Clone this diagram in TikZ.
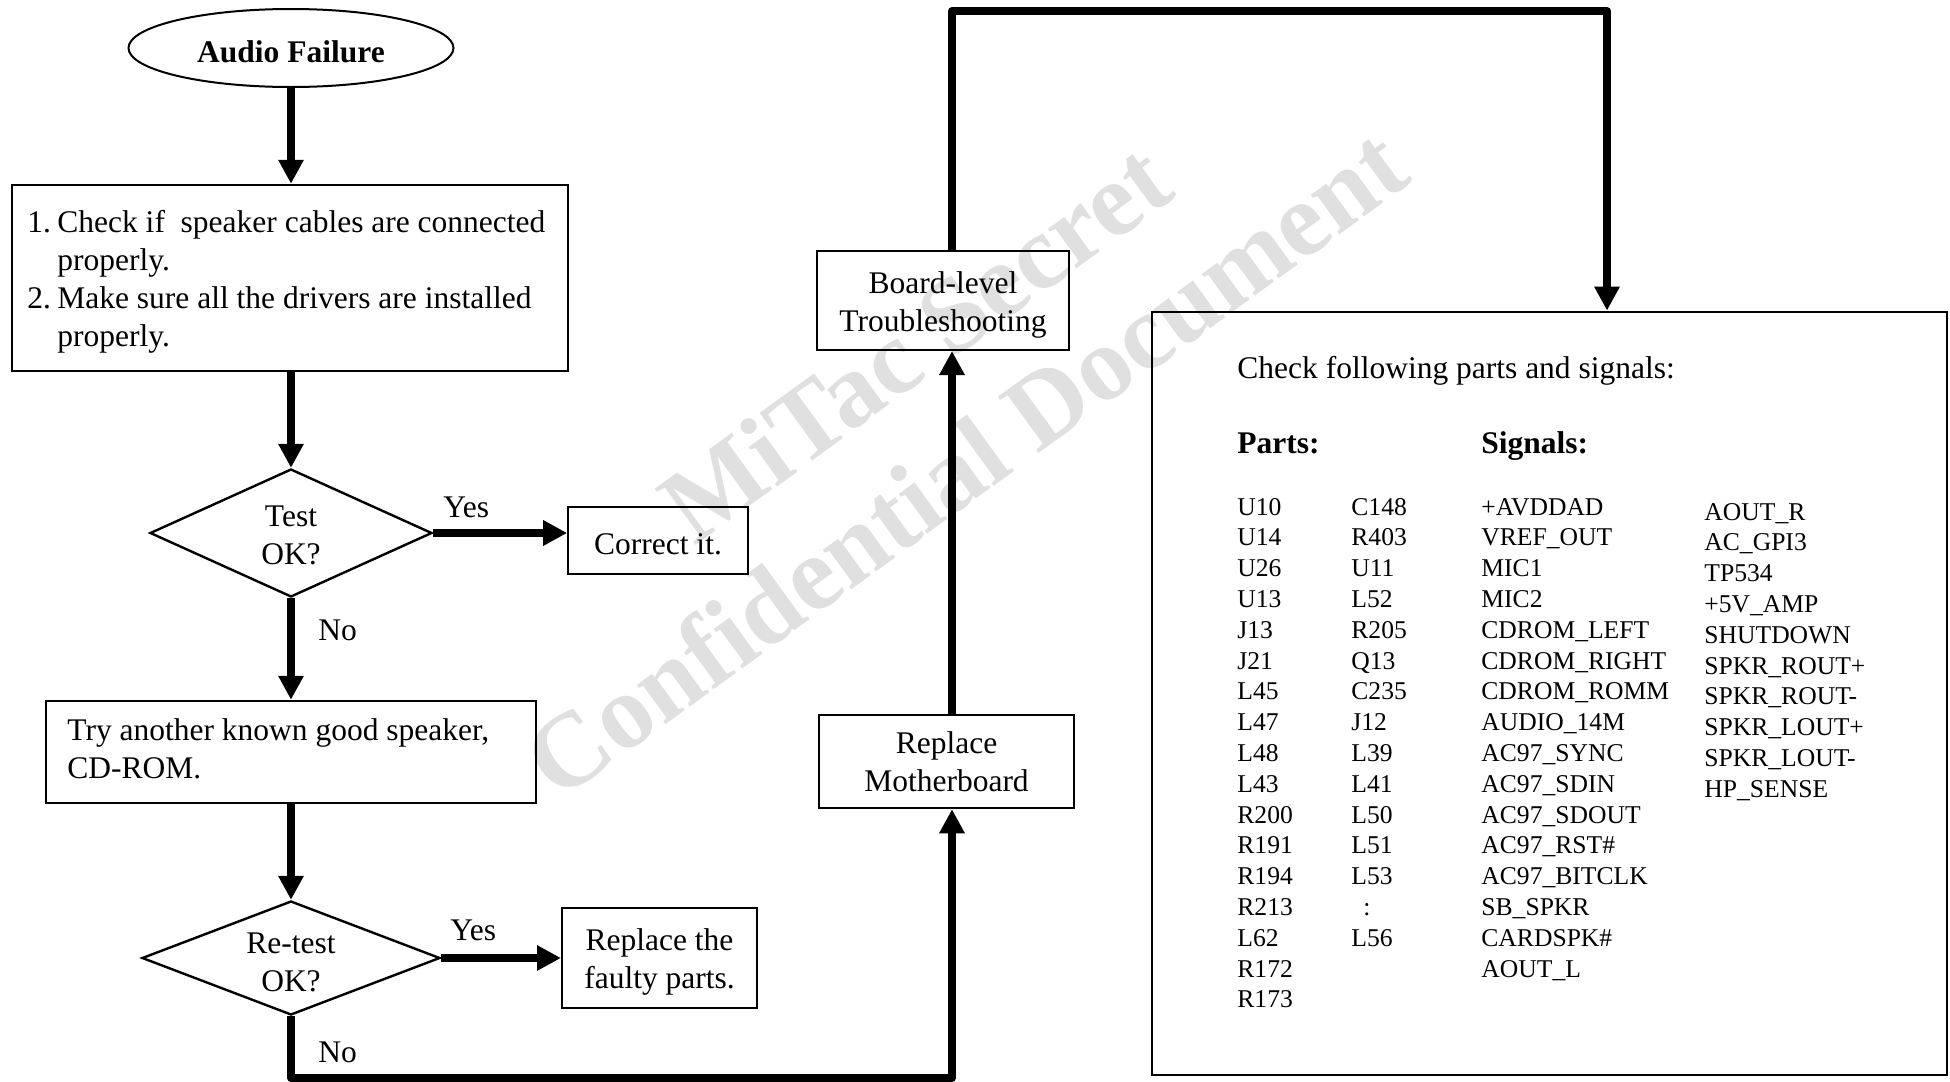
\documentclass[tikz,border=0pt]{standalone}
\usepackage{fontspec}
\setmainfont{Liberation Serif}
\usetikzlibrary{shapes.geometric,arrows.meta}
\newcommand\mainsz{\fontsize{15.75}{19.15}\selectfont}
\newcommand\listsz{\fontsize{12.8}{15.4}\selectfont}
\newcommand\mylines[2][l]{\begin{tabular}[t]{@{}#1@{}}#2\end{tabular}}
\begin{document}
\begin{tikzpicture}[x=0.5pt,y=-0.5pt,
  box/.style={draw, line width=1.25pt, inner sep=0pt, rectangle},
  dia/.style={draw, diamond, line width=1.2pt, inner sep=0pt},
  txt/.style={inner sep=0pt, font=\mainsz},
  btxt/.style={inner sep=0pt, font=\mainsz\bfseries},
  lst/.style={inner sep=0pt, font=\listsz, anchor=base west},
  flow/.style={line width=4.1pt, -{Triangle[width=12pt,length=12pt]}},
  wm/.style={text=black!12, font=\fontsize{53}{60}\selectfont\bfseries, rotate=36, inner sep=0pt}
]
\useasboundingbox (0,0) rectangle (1950,1082);
% watermark
\node[wm] (wm1) at (915,342) {MiTac Secret};
\node[wm] (wm2) at (965,462) {Confidential Document};

% shapes
\node[draw, ellipse, line width=1pt, minimum width=162.5pt, minimum height=39pt, inner sep=0pt] (af) at (291,48) {};
\node[btxt, anchor=base] (aft) at (291,62) {Audio Failure};

\node[box, minimum width=278pt, minimum height=93pt] (b1) at (290,278) {};
\node[txt, anchor=base west] (b1t) at (27,232) {\mylines{\makebox[15pt][l]{1.}Check if\ \ speaker cables are connected\\ \hspace*{15pt}properly.\\ \makebox[15pt][l]{2.}Make sure all the drivers are installed\\ \hspace*{15pt}properly.}};

\node[dia, minimum width=141pt, minimum height=64pt] (d1) at (291,533) {};
\node[txt, anchor=base] (d1t) at (291,526) {\mylines[c]{Test\\OK?}};
\node[txt, anchor=base west] (yes1) at (443,517) {Yes};
\node[box, line width=0.8pt, minimum width=90pt, minimum height=33.5pt] (cor) at (658,540.5) {};
\node[txt, anchor=base] (cort) at (658,554) {Correct it.};

\node[txt, anchor=base west] (no1) at (318,640) {No};
\node[box, minimum width=245pt, minimum height=51pt] (b2) at (291,752) {};
\node[txt, anchor=base west] (b2t) at (67,740) {\mylines{Try another known good speaker,\\CD-ROM.}};

\node[dia, minimum width=149pt, minimum height=57pt] (d2) at (291,958) {};
\node[txt, anchor=base] (d2t) at (291,953) {\mylines[c]{Re-test\\OK?}};
\node[txt, anchor=base west] (yes2) at (450,940) {Yes};
\node[box, line width=1pt, minimum width=97.5pt, minimum height=50pt] (rf) at (659.5,958) {};
\node[txt, anchor=base] (rft) at (659.5,950) {\mylines[c]{Replace the\\faulty parts.}};
\node[txt, anchor=base west] (no2) at (318,1062) {No};

\node[box, minimum width=127.5pt, minimum height=46.5pt] (rm) at (946.5,761.5) {};
\node[txt, anchor=base] (rmt) at (946.5,753) {\mylines[c]{Replace\\Motherboard}};
\node[box, line width=1pt, minimum width=126pt, minimum height=49.5pt] (bl) at (943,300.5) {};
\node[txt, anchor=base] (blt) at (943,293) {\mylines[c]{Board-level\\Troubleshooting}};

\node[box, line width=1.4pt, minimum width=397.5pt, minimum height=381.5pt] (bb) at (1549.5,693.5) {};
\node[txt, anchor=base west] (chk) at (1237,378) {Check following parts and signals:};
\node[btxt, anchor=base west] (ph) at (1237,453) {Parts:};
\node[btxt, anchor=base west] (sh) at (1481,453) {Signals:};
\node[lst] (col1) at (1237,515) {\mylines{U10\\U14\\U26\\U13\\J13\\J21\\L45\\L47\\L48\\L43\\R200\\R191\\R194\\R213\\L62\\R172\\R173}};
\node[lst] (col2) at (1351,515) {\mylines{C148\\R403\\U11\\L52\\R205\\Q13\\C235\\J12\\L39\\L41\\L50\\L51\\L53\\\hspace*{6pt}:\\L56}};
\node[lst] (col3) at (1481,515) {\mylines{+AVDDAD\\VREF\_OUT\\MIC1\\MIC2\\CDROM\_LEFT\\CDROM\_RIGHT\\CDROM\_ROMM\\AUDIO\_14M\\AC97\_SYNC\\AC97\_SDIN\\AC97\_SDOUT\\AC97\_RST\#\\AC97\_BITCLK\\SB\_SPKR\\CARDSPK\#\\AOUT\_L}};
\node[lst] (col4) at (1704,520) {\mylines{AOUT\_R\\AC\_GPI3\\TP534\\+5V\_AMP\\SHUTDOWN\\SPKR\_ROUT+\\SPKR\_ROUT-\\SPKR\_LOUT+\\SPKR\_LOUT-\\HP\_SENSE}};

% connectors
\draw[flow] (af.south) -- (af.south |- b1.north);
\draw[flow] (b1.south -| af.south) -- (d1.north);
\draw[flow] (d1.east) -- (d1.east -| cor.west);
\draw[flow] (d1.south) -- (d1.south |- b2.north);
\draw[flow] (d1.south |- b2.south) -- (d2.north);
\draw[flow] (d2.east) -- (rf.west);
\coordinate (c1) at (952,1078);
\draw[flow, line join=round] (d2.south) |- (c1) -- (c1 |- rm.south);
\draw[flow] (c1 |- rm.north) -- (c1 |- bl.south);
\coordinate (c2) at (952,11);
\coordinate (c3) at (1607,11);
\draw[flow, line join=round] (c2 |- bl.north) -- (c2) -- (c3) -- (c3 |- bb.north);
\end{tikzpicture}
\end{document}
